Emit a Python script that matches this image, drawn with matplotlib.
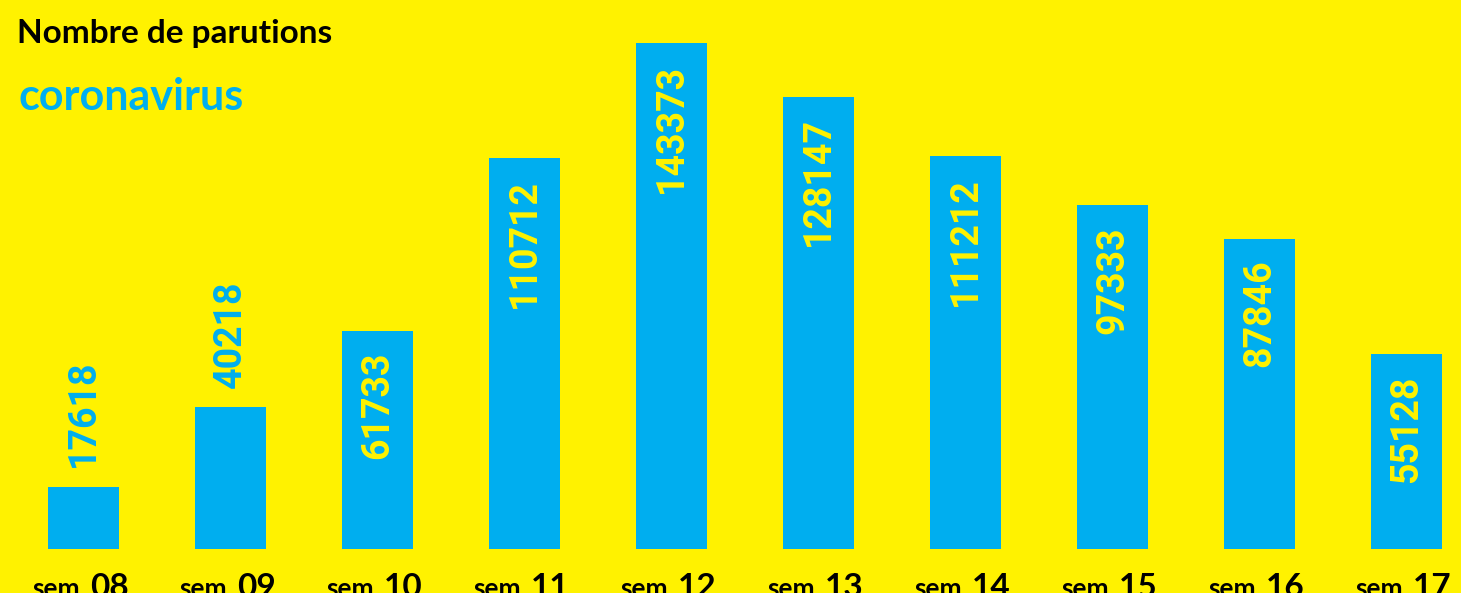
import matplotlib
matplotlib.use("Agg")
import matplotlib.pyplot as plt
from matplotlib.transforms import blended_transform_factory

# weekly number of publications mentioning "coronavirus"
weeks = ["08", "09", "10", "11", "12", "13", "14", "15", "16", "17"]
parutions = [17618, 40218, 61733, 110712, 143373, 128147, 111212, 97333, 87846, 55128]

YELLOW = "#FFF200"
BLUE = "#00AEEF"

fig = plt.figure(figsize=(14.61, 5.93), dpi=100, facecolor=YELLOW)
ax = fig.add_axes([0, 44 / 593, 1, 549 / 593])
ax.set_facecolor(YELLOW)

x = list(range(len(weeks)))
ax.bar(x, parutions, width=0.483, color=BLUE)

ax.set_xlim(-83.5 / 147, (1461 - 83.5) / 147)
ax.set_ylim(0, 549 / 3.53e-3)
ax.axis("off")

# value labels, inside the bar when there is room, above it otherwise
for xi, v in zip(x, parutions):
    if v < 50000:
        ax.annotate(f"{v}", (xi, v), xytext=(0, 14), textcoords="offset points",
                    rotation=90, ha="center", va="bottom", color=BLUE,
                    fontsize=27, fontfamily="Roboto", fontweight="bold")
    else:
        ax.annotate(f"{v}", (xi, v), xytext=(0, -15), textcoords="offset points",
                    rotation=90, ha="center", va="top", color=YELLOW,
                    fontsize=27, fontfamily="Roboto", fontweight="bold")

# week labels under the bars
tr = blended_transform_factory(ax.transData, fig.transFigure)
for xi, w in zip(x, weeks):
    ax.annotate("sem", (xi, -4 / 593), xycoords=tr, xytext=(-2.5, 0),
                textcoords="offset points", ha="right", va="baseline",
                fontsize=19, fontfamily="Lato", fontweight="bold",
                color="black", annotation_clip=False)
    ax.annotate(w, (xi, -4 / 593), xycoords=tr, xytext=(4.7, 0),
                textcoords="offset points", ha="left", va="baseline",
                fontsize=24, fontfamily="Lato", fontweight="bold",
                color="black", annotation_clip=False)

fig.text(17 / 1461, 1 - 43 / 593, "Nombre de parutions", ha="left", va="baseline",
         fontsize=24, fontfamily="Lato", fontweight="bold", color="black")
fig.text(18 / 1461, 1 - 110 / 593, "coronavirus", ha="left", va="baseline",
         fontsize=31, fontfamily="Lato", fontweight="bold", color=BLUE)

fig.savefig("out.png", dpi=100, facecolor=YELLOW)
